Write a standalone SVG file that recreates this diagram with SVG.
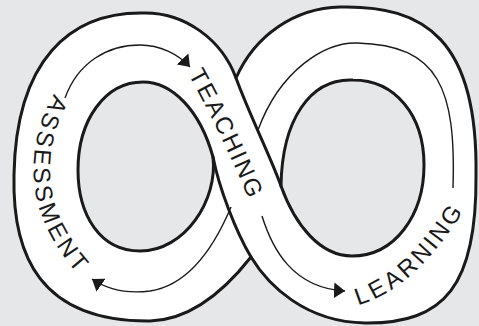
<svg xmlns="http://www.w3.org/2000/svg" width="479" height="326" viewBox="0 0 479 326">
<defs>
<style>
.band{fill:#fff;stroke:#1a1a1a;stroke-width:3;stroke-linejoin:round}
.hole{fill:#e6e7e8;stroke:#1a1a1a;stroke-width:3;stroke-linejoin:round}
.edge{fill:none;stroke:#1a1a1a;stroke-width:3;stroke-linecap:round}
.flow{fill:none;stroke:#1a1a1a;stroke-width:1.4}
.lbl{font-family:"Liberation Sans",Arial,sans-serif;font-size:24px;fill:#1a1a1a;letter-spacing:2.2px}
</style>
<marker id="ah" viewBox="0 0 11 16" refX="11" refY="8" markerWidth="11" markerHeight="16" markerUnits="userSpaceOnUse" orient="auto"><path d="M0,0 L11,8 L0,16 Z" fill="#1a1a1a"/></marker>
<path id="pA" d="M 62,98 C 42,130 38,170 46,200 C 52,225 70,255 92,276"/>
<path id="pT" d="M 196,70 C 215,105 238,150 260,204"/>
<path id="pL" d="M 355,297 Q 410,282 458,203"/>
</defs>
<rect width="479" height="326" fill="#e6e7e8"/>
<g id="band">
<path class="band" d="M 236,78 C 222,40 185,12 143,13 C 70,12 16,60 14,175 C 12,255 40,322 150,321 C 190,320 225,290 251,257 C 268,285 305,322 365,323 C 445,324 477,285 476,175 C 478,40 425,5 340,7 C 295,8 255,35 236,78 Z"/>
<path class="hole" d="M 143,82 C 172,82 200,110 213,157 C 218,200 185,251 140,251 C 100,251 78,215 78,170 C 78,120 105,82 143,82 Z"/>
<path class="hole" d="M 281,186 C 295,225 320,256 352,256 C 395,256 424,215 424,165 C 424,115 395,80 353,80 C 310,78 282,120 281,186 Z"/>
<path class="edge" d="M 213,157 C 219,188 236,232 251,257"/>
<path class="edge" d="M 236,78 C 250,116 272,160 281,186"/>
</g>
<g id="connectors">
<path class="flow" marker-end="url(#ah)" d="M 65,98 C 78,62 108,45 140,45 C 160,45 178,54 190,67"/>
<path class="flow" marker-end="url(#ah)" d="M 262,216 C 272,248 292,288 345,291"/>
<path class="flow" d="M 453,188 C 456,90 440,45 357,43 C 325,42 280,70 258,130"/>
<path class="flow" marker-end="url(#ah)" d="M 231,207 C 215,245 190,285 150,291 C 125,294 105,288 92,279"/>
</g>
<g id="assessment"><text class="lbl"><textPath href="#pA"><tspan dy="0.36em">ASSESSMENT</tspan></textPath></text></g>
<g id="teaching"><text class="lbl"><textPath href="#pT"><tspan dy="0.36em">TEACHING</tspan></textPath></text></g>
<g id="learning"><text class="lbl"><textPath href="#pL"><tspan dy="0.36em">LEARNING</tspan></textPath></text></g>
</svg>
